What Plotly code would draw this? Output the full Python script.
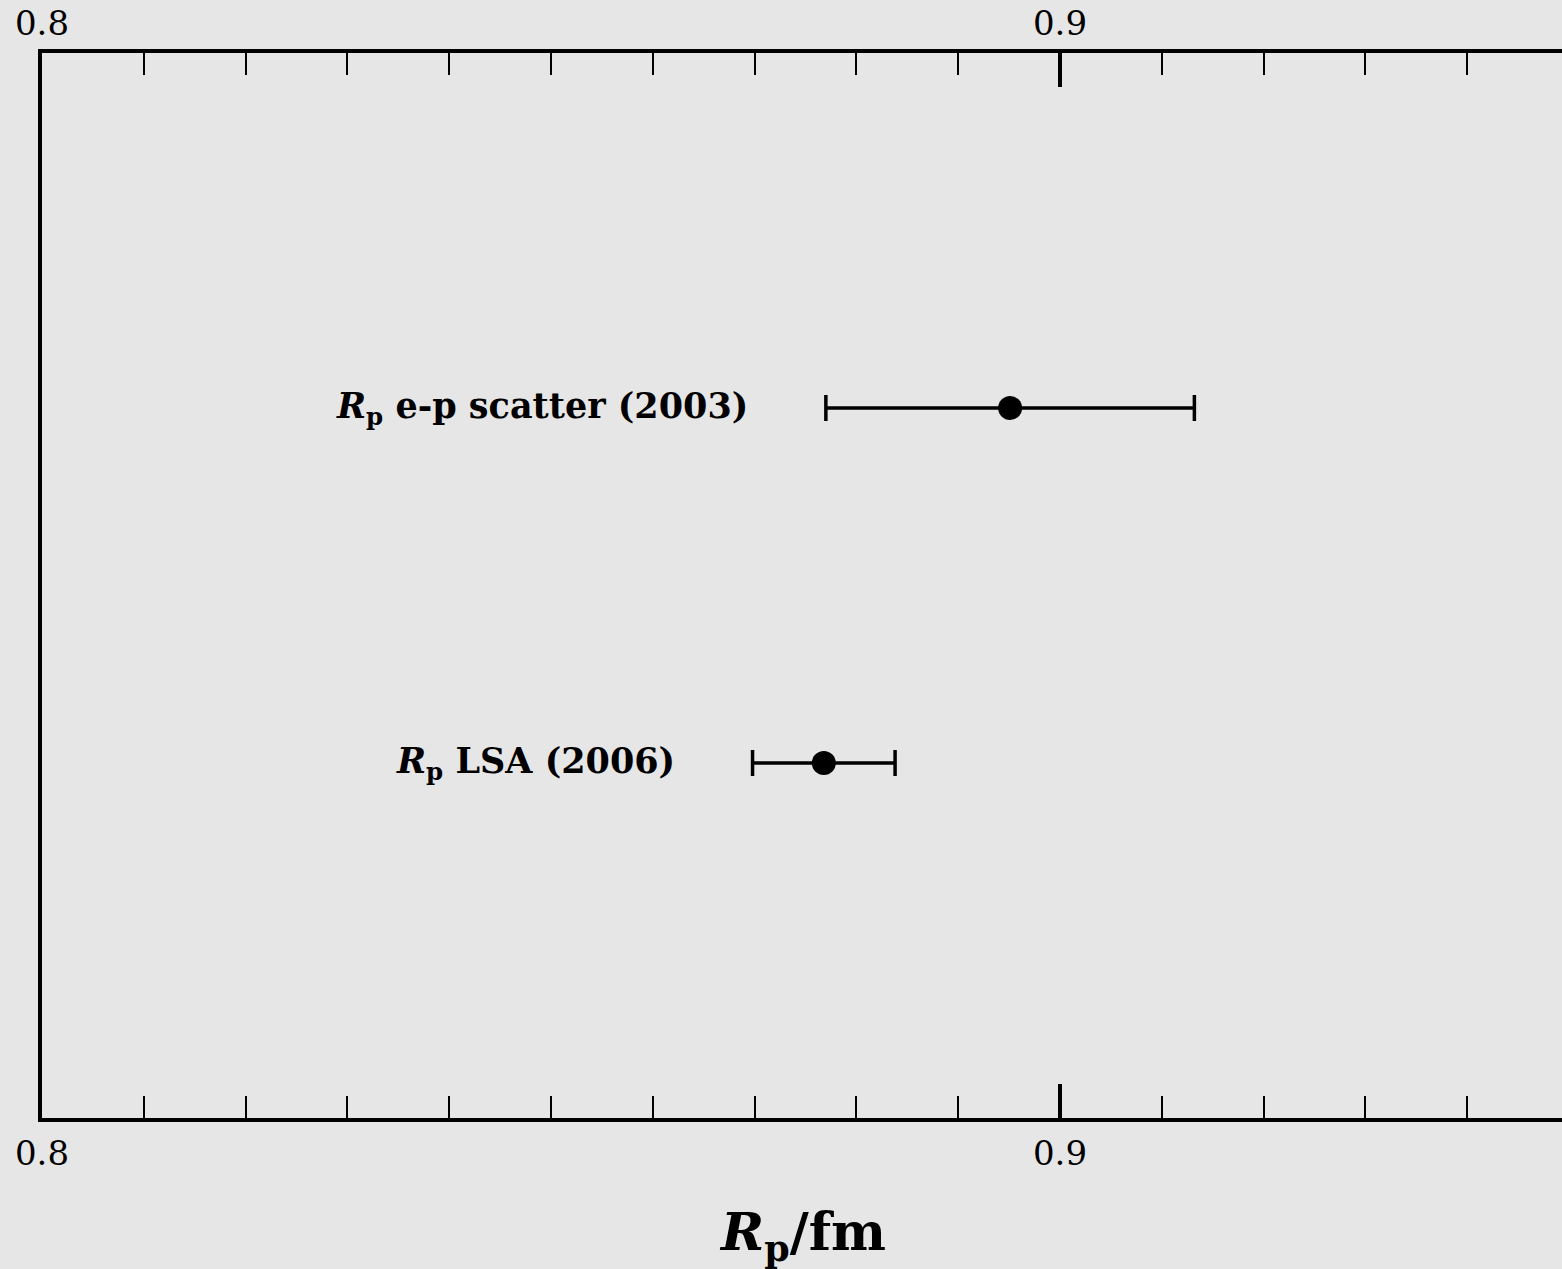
import plotly.graph_objects as go

labels = ["<b><i>R</i><sub>p</sub> e-p scatter (2003)</b>", "<b><i>R</i><sub>p</sub> LSA (2006)</b>"]
values = [0.8951, 0.8768]
errors = [0.0181, 0.0070]
ypos = [2, 1]

BG = "#e6e6e6"
FONT = "DejaVu Serif"

fig = go.Figure()
fig.add_trace(go.Scatter(
    x=values, y=ypos, mode="markers",
    marker=dict(color="black", size=24),
    error_x=dict(type="data", array=errors, visible=True, color="black", thickness=3.5, width=13),
    showlegend=False, hoverinfo="skip", xaxis="x", yaxis="y",
))
fig.add_trace(go.Scatter(x=[0.8], y=[0], mode="markers", marker=dict(opacity=0),
                         showlegend=False, hoverinfo="skip", xaxis="x2", yaxis="y"))

for lab, v, e, y in zip(labels, values, errors, ypos):
    fig.add_annotation(x=v - e, y=y, xref="x", yref="y", text=lab, showarrow=False,
                       xanchor="right", yanchor="middle", xshift=-76,
                       font=dict(family=FONT, size=35, color="black"))

xr = [0.8, 0.8 + 1520 / 10180]
axis_common = dict(
    range=xr, tick0=0.8, dtick=0.1, tickformat=".1f", automargin=False,
    ticks="inside", ticklen=34, tickwidth=3.5, tickcolor="black",
    showline=True, linewidth=4, linecolor="black", showgrid=False, zeroline=False,
    tickfont=dict(family=FONT, size=34, color="black"),
    minor=dict(dtick=0.01, tick0=0.8, ticks="inside", ticklen=22, tickwidth=1.6,
               tickcolor="black", showgrid=False),
)
fig.update_layout(
    width=1562, height=1269,
    margin=dict(l=42, r=0, t=53, b=151),
    paper_bgcolor=BG, plot_bgcolor=BG,
    xaxis=dict(side="bottom", ticklabelstandoff=2, **axis_common),
    xaxis2=dict(side="top", overlaying="x", matches="x", ticklabelstandoff=0, **axis_common),
    yaxis=dict(range=[0, 3], showline=True, linewidth=4, linecolor="black", automargin=False,
               showticklabels=False, ticks="", showgrid=False, zeroline=False),
)
fig.add_annotation(x=0.5, y=0, xref="paper", yref="paper", yshift=-81, yanchor="top",
                   text="<b><i>R</i><sub>p</sub>/fm</b>", showarrow=False,
                   font=dict(family=FONT, size=52, color="black"))
fig.write_html("out.html", config={"displayModeBar": False},
               post_script="document.body.style.margin='0';document.body.style.background='#e6e6e6';")
